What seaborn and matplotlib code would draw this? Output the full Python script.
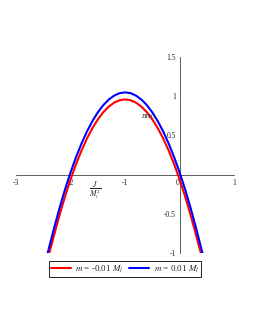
import numpy as np
import pandas as pd
import seaborn as sns
from matplotlib import pyplot as plt
from matplotlib.lines import Line2D

# values
x_red = [-2.39, -2.3, -2.2, -2.1, -2.0, -1.9, -1.8, -1.7, -1.6, -1.5, -1.4, -1.3, -1.2, -1.1, -1.0,
         -0.9, -0.8, -0.7, -0.6, -0.5, -0.4, -0.3, -0.2, -0.1, 0.0, 0.1, 0.2, 0.3, 0.39]
y_red = [-1.0, -0.764, -0.509, -0.274, -0.06, 0.134, 0.307, 0.46, 0.593, 0.705, 0.797, 0.868, 0.919, 0.95, 0.96,
         0.95, 0.919, 0.868, 0.797, 0.705, 0.593, 0.46, 0.307, 0.134, -0.06, -0.274, -0.509, -0.764, -1.0]
x_blue = [-2.42, -2.3, -2.2, -2.1, -2.0, -1.9, -1.8, -1.7, -1.6, -1.5, -1.4, -1.3, -1.2, -1.1, -1.0,
          -0.9, -0.8, -0.7, -0.6, -0.5, -0.4, -0.3, -0.2, -0.1, 0.0, 0.1, 0.2, 0.3, 0.42]
y_blue = [-1.0, -0.674, -0.419, -0.184, 0.03, 0.224, 0.397, 0.55, 0.683, 0.795, 0.887, 0.958, 1.009, 1.04, 1.05,
          1.04, 1.009, 0.958, 0.887, 0.795, 0.683, 0.55, 0.397, 0.224, 0.03, -0.184, -0.419, -0.674, -1.0]
labels = [r"$m$ = -0.01 $M_l$", r"$m$ = 0.01 $M_l$"]
x_ticks = [-3, -2, -1, 0, 1]
y_ticks = [-1, -0.5, 0.5, 1, 1.5]
y_ticklabels = ["-1", "-0.5", "0.5", "1", "1.5"]

sns.set_style("white")
plt.rcParams['font.family'] = ['Liberation Serif', 'DejaVu Serif']
plt.rcParams['mathtext.fontset'] = 'stix'

df = pd.concat([
    pd.DataFrame({"x": x_red, "y": y_red, "m": labels[0]}),
    pd.DataFrame({"x": x_blue, "y": y_blue, "m": labels[1]}),
])

fig = plt.figure(figsize=(2.55, 3.3), dpi=100)
ax = fig.add_axes([0.063, 0.233, 0.855, 0.594])
sns.lineplot(data=df, x="x", y="y", hue="m", palette=["red", "blue"],
             linewidth=1.5, legend=False, ax=ax, sort=False)

ax.set_xlim(-3, 1)
ax.set_ylim(-1, 1.5)
ax.spines['left'].set_position(('data', 0))
ax.spines['bottom'].set_position(('data', 0))
ax.spines['right'].set_visible(False)
ax.spines['top'].set_visible(False)
for s in ['left', 'bottom']:
    ax.spines[s].set_linewidth(0.6)
    ax.spines[s].set_color('#444444')
    ax.spines[s].set_zorder(1.5)

ax.set_xticks(x_ticks)
ax.set_xticklabels([str(t) for t in x_ticks], fontsize=5.5)
ax.set_yticks(y_ticks)
ax.set_yticklabels(y_ticklabels, fontsize=5.5)
ax.set_xticks(np.arange(-2.5, 1, 1.0), minor=True)
ax.set_yticks(np.round(np.arange(-0.9, 1.5, 0.1), 2), minor=True)
ax.tick_params(which='major', direction='inout', length=2.5, width=0.5, pad=1.5, color='#666666')
ax.tick_params(which='minor', direction='inout', length=1.5, width=0.4, color='#888888')
ax.set_xlabel("")
ax.set_ylabel("")
# origin label sits just left of the vertical axis
ax.get_xticklabels()[3].set_horizontalalignment('right')

ax.text(-0.57, 0.74, "BHC", fontsize=5, style='italic', ha='center', va='center', zorder=5)
ax.text(-1.54, -0.2, r"$\frac{J}{M_l^2}$", fontsize=8, ha='center', va='center')

handles = [Line2D([], [], color="red", lw=1.5), Line2D([], [], color="blue", lw=1.5)]
leg = fig.legend(handles, labels, loc='center', bbox_to_anchor=(0.49, 0.185), ncol=2,
                 fontsize=6.5, handlelength=2.2, columnspacing=0.6, handletextpad=0.5,
                 borderpad=0.25, fancybox=False, framealpha=1)
leg.get_frame().set_edgecolor('black')
leg.get_frame().set_linewidth(0.6)

fig.savefig("out.png", dpi=100)
